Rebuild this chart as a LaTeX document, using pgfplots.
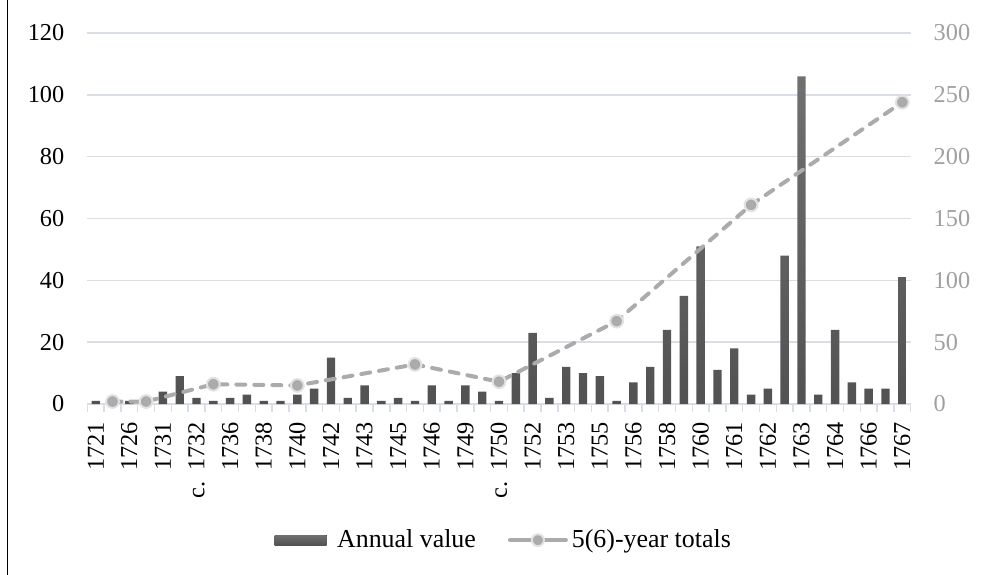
\documentclass[border=0pt]{standalone}
\usepackage{fontspec}
\setmainfont{Liberation Serif}
\usepackage{pgfplots}
\pgfplotsset{compat=1.18}
\definecolor{barc}{RGB}{92,92,92}
\definecolor{bartop}{RGB}{112,112,112}
\definecolor{barbot}{RGB}{82,82,82}
\definecolor{linec}{RGB}{171,171,171}
\definecolor{halo}{RGB}{226,226,226}
\definecolor{gridc}{RGB}{217,222,230}
\definecolor{rlab}{RGB}{160,160,160}
\pgfplotsset{
  legline/.style={legend image code/.code={%
    \draw[linec, solid, line width=2bp, line cap=round] (0bp,0bp) -- (28bp,0bp);
    \fill[linec, solid, draw=halo, line width=1bp] (14bp,0bp) circle (3bp);}},
  legbar/.style={legend image code/.code={%
    \fill[draw=none, top color=bartop, bottom color=barbot] (0bp,-2.5bp) rectangle (26bp,2.5bp);
    \path (29bp,0bp);}},
}
\begin{document}
\begin{tikzpicture}
\begin{axis}[
  at={(0,0)}, anchor=south west,
  scale only axis, width=411.7bp, height=185.5bp,
  xmin=0.5, xmax=49.5, ymin=0, ymax=120,
  ybar, bar width=4.2bp,
  ytick={0,20,...,120},
  ymajorgrids, grid style={gridc, line width=0.75bp},
  axis line style={draw=none},
  xtick={1,3,...,49},
  xticklabels={1721,1726,1731,c.\hspace{0.45em}1732,1736,1738,1740,1742,1743,1745,1746,1749,c.\hspace{0.45em}1750,1752,1753,1755,1756,1758,1760,1761,1762,1763,1764,1766,1767},
  minor xtick={0.5,1.5,...,49.5},
  xtick pos=bottom, ytick pos=left,
  tick align=outside,
  major tick length=0pt, minor tick length=4bp,
  minor x tick style={gridc, line width=0.75bp},
  ytick style={draw=none},
  every tick label/.append style={font=\fontsize{12.2}{14}\selectfont},
  xticklabel style={rotate=90, anchor=east},
  xticklabel shift=5.5bp,
  yticklabel shift=8bp,
  /pgf/number format/assume math mode=true,
]
\addplot[draw=none, top color=bartop, bottom color=barbot] coordinates {
(1,1)(2,1)(3,1)(4,1)(5,4)(6,9)(7,2)(8,1)(9,2)(10,3)
(11,1)(12,1)(13,3)(14,5)(15,15)(16,2)(17,6)(18,1)(19,2)(20,1)
(21,6)(22,1)(23,6)(24,4)(25,1)(26,10)(27,23)(28,2)(29,12)(30,10)
(31,9)(32,1)(33,7)(34,12)(35,24)(36,35)(37,51)(38,11)(39,18)(40,3)
(41,5)(42,48)(43,106)(44,3)(45,24)(46,7)(47,5)(48,5)(49,41)};
\end{axis}
\begin{axis}[
  at={(0,0)}, anchor=south west,
  scale only axis, width=411.7bp, height=185.5bp,
  xmin=0.5, xmax=49.5, ymin=0, ymax=300,
  ytick={0,50,...,300},
  hide x axis,
  axis line style={draw=none},
  ytick pos=right, yticklabel pos=right,
  major tick length=0pt, ytick style={draw=none},
  every tick label/.append style={font=\fontsize{12.2}{14}\selectfont, text=rlab},
  yticklabel shift=8bp,
  /pgf/number format/assume math mode=true,
  legend style={at={(0.507,-0.367)}, anchor=center, draw=none, fill=none,
    font=\fontsize{13}{15}\selectfont, legend columns=2,
    /tikz/every even column/.append style={column sep=14bp}},
  legend cell align=left,
]
\addlegendimage{legbar}
\addlegendentry{Annual value}
\addplot[linec, line width=2bp, line cap=round, dash pattern=on 4.5bp off 4.5bp,
  mark=*, mark size=3.2bp, mark options={solid, fill=linec, draw=halo, line width=1bp},
  legline]
coordinates {(2,2)(4,2)(8,16)(13,15)(20,32)(25,18)(32,67)(40,161)(49,244)};
\addlegendentry{5(6)-year totals}
\end{axis}
\draw[black, line width=0.6bp] (-40bp,-85.5bp) -- (-40bp,202bp);
\pgfresetboundingbox
\useasboundingbox (-43.65bp,-85.5bp) rectangle (450.35bp,202bp);
\end{tikzpicture}
\end{document}
